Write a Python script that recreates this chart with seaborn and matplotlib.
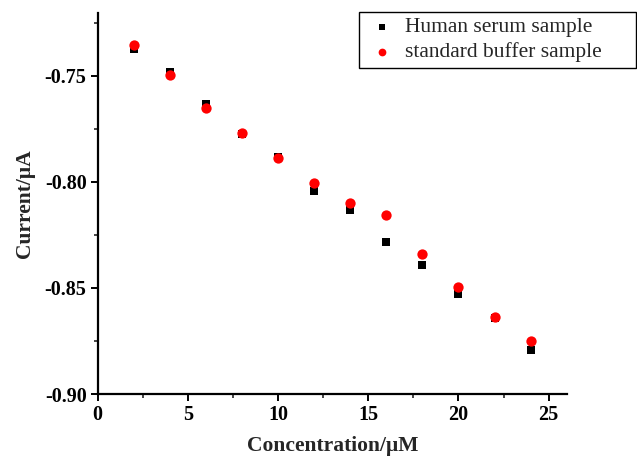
import matplotlib
matplotlib.use("Agg")
import matplotlib.pyplot as plt
import seaborn as sns
import pandas as pd
from matplotlib.ticker import MultipleLocator, FormatStrFormatter

concentration = [2, 4, 6, 8, 10, 12, 14, 16, 18, 20, 22, 24]
human_serum = [-0.7373, -0.7483, -0.7630, -0.7772, -0.7880, -0.8042, -0.8132,
               -0.8283, -0.8392, -0.8528, -0.8642, -0.8792]
standard_buffer = [-0.7354, -0.7496, -0.7652, -0.7769, -0.7887, -0.8005, -0.8099,
                   -0.8156, -0.8338, -0.8497, -0.8637, -0.8748]
series_names = ["Human serum sample", "standard buffer sample"]

sns.set_style("ticks")
plt.rcParams['font.family'] = ['Liberation Serif', 'DejaVu Serif']

fig = plt.figure(figsize=(6.37, 4.59), dpi=100)
ax = fig.add_axes([97.7 / 637, 65 / 459, 469 / 637, 381 / 459])

df1 = pd.DataFrame({"x": concentration, "y": human_serum})
df2 = pd.DataFrame({"x": concentration, "y": standard_buffer})
sns.scatterplot(data=df1, x="x", y="y", ax=ax, marker="s", color="black",
                s=40, linewidth=0, label=series_names[0], zorder=3)
sns.scatterplot(data=df2, x="x", y="y", ax=ax, marker="o", color="#ff0000",
                s=55, linewidth=0, label=series_names[1], zorder=4)

ax.set_xlim(0, 26)
ax.set_ylim(-0.90, -0.7203)
ax.xaxis.set_major_locator(MultipleLocator(5))
ax.xaxis.set_minor_locator(MultipleLocator(2.5))
ax.yaxis.set_major_locator(MultipleLocator(0.05))
ax.yaxis.set_minor_locator(MultipleLocator(0.025))
ax.yaxis.set_major_formatter(FormatStrFormatter('%.2f'))

for s in ["top", "right"]:
    ax.spines[s].set_visible(False)
for s in ["left", "bottom"]:
    ax.spines[s].set_linewidth(1.6)
    ax.spines[s].set_color("black")

ax.tick_params(axis='both', which='major', direction='out', length=5, width=1.4,
               labelsize=14.5, colors='black', pad=3)
ax.tick_params(axis='both', which='minor', direction='out', length=3, width=1.2)
for lab in ax.get_xticklabels() + ax.get_yticklabels():
    lab.set_fontweight('bold')

ax.set_xlabel("Concentration/μM", fontsize=15.5, fontweight='bold', labelpad=8)
ax.set_ylabel("Current/μA", fontsize=15.5, fontweight='bold', labelpad=7)

leg = ax.legend(loc='upper left', bbox_to_anchor=(359 / 637, 1 - 12 / 459, 277 / 637, 0.0),
                bbox_transform=fig.transFigure, mode='expand', fontsize=15.5,
                frameon=True, fancybox=False, edgecolor='black', framealpha=1,
                borderpad=0.25, labelspacing=0.22, handlelength=1.6,
                handletextpad=0.3, borderaxespad=0, markerscale=0.75)
leg.get_frame().set_linewidth(1.0)

fig.savefig("out.png", dpi=100)
